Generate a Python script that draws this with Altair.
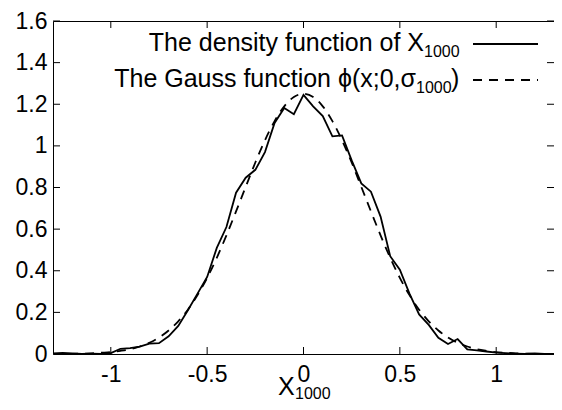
import altair as alt
import pandas as pd

# Empirical density of X_1000 (solid line)
dens_x = [-1.30, -1.25, -1.20, -1.15, -1.10, -1.05, -1.00, -0.95, -0.90, -0.85,
          -0.80, -0.75, -0.70, -0.65, -0.60, -0.55, -0.50, -0.45, -0.40, -0.35,
          -0.30, -0.25, -0.20, -0.15, -0.10, -0.05, 0.00, 0.05, 0.10, 0.15,
          0.20, 0.25, 0.30, 0.35, 0.40, 0.45, 0.50, 0.55, 0.60, 0.65,
          0.70, 0.75, 0.80, 0.85, 0.90, 0.95, 1.00, 1.05, 1.10, 1.15,
          1.20, 1.25, 1.30]
dens_y = [0.003, 0.005, 0.003, 0.001, 0.002, 0.001, 0.004, 0.025, 0.028, 0.035,
          0.050, 0.052, 0.085, 0.135, 0.210, 0.290, 0.370, 0.510, 0.610, 0.775,
          0.847, 0.885, 0.970, 1.110, 1.182, 1.152, 1.245, 1.190, 1.143, 1.046,
          1.050, 0.930, 0.820, 0.780, 0.660, 0.470, 0.405, 0.290, 0.190, 0.140,
          0.078, 0.048, 0.072, 0.022, 0.017, 0.012, 0.007, 0.004, 0.002, 0.001,
          0.003, 0.001, 0.000]

# Gauss function phi(x;0,sigma_1000) (dashed line)
gauss_x = dens_x
gauss_y = [0.000, 0.001, 0.001, 0.002, 0.003, 0.006, 0.009, 0.015, 0.023, 0.036,
           0.054, 0.079, 0.113, 0.157, 0.213, 0.283, 0.366, 0.462, 0.570, 0.685,
           0.803, 0.920, 1.027, 1.119, 1.190, 1.235, 1.250, 1.235, 1.190, 1.119,
           1.027, 0.920, 0.803, 0.685, 0.570, 0.462, 0.366, 0.283, 0.213, 0.157,
           0.113, 0.079, 0.054, 0.036, 0.023, 0.015, 0.009, 0.006, 0.003, 0.002,
           0.001, 0.001, 0.000]

x_ticks = [-1, -0.5, 0, 0.5, 1]
y_ticks = [0, 0.2, 0.4, 0.6, 0.8, 1, 1.2, 1.4, 1.6]

PL, PT = 45, 13
W, H = 501, 333
SVG_H = 394
FONT = "Liberation Sans"
TICK_FS = 23
LEG_FS = 25
SUB_FS = 16

dens = pd.DataFrame({"x": dens_x, "y": dens_y})
gauss = pd.DataFrame({"x": gauss_x, "y": gauss_y})
xt = pd.DataFrame({"v": x_ticks})
yt = pd.DataFrame({"v": y_ticks})

xscale = alt.Scale(domain=[-1.3, 1.3], nice=False, zero=False)
yscale = alt.Scale(domain=[0, 1.6], nice=False, zero=False)

xaxis = alt.Axis(values=x_ticks, labelExpr="datum.value + ''", ticks=False, domain=False,
                 grid=False, labelFont=FONT, labelFontSize=TICK_FS, labelColor="black",
                 labelPadding=9, title=None)
yaxis = alt.Axis(values=y_ticks, labelExpr="datum.value + ''", ticks=False, domain=False,
                 grid=False, labelFont=FONT, labelFontSize=TICK_FS, labelColor="black",
                 labelPadding=6, title=None)

solid = alt.Chart(dens).mark_line(color="black", strokeWidth=1.8, clip=True).encode(
    x=alt.X("x:Q", scale=xscale, axis=xaxis),
    y=alt.Y("y:Q", scale=yscale, axis=yaxis),
)
dashed = alt.Chart(gauss).mark_line(color="black", strokeWidth=1.8, strokeDash=[9, 7],
                                    interpolate="monotone", clip=True).encode(
    x=alt.X("x:Q", scale=xscale),
    y=alt.Y("y:Q", scale=yscale),
)

TL = 7
bt = alt.Chart(xt).mark_rule(color="black", strokeWidth=1).encode(
    x=alt.X("v:Q", scale=xscale), y=alt.value(H), y2=alt.value(H - TL))
tt = alt.Chart(xt).mark_rule(color="black", strokeWidth=1).encode(
    x=alt.X("v:Q", scale=xscale), y=alt.value(0), y2=alt.value(TL))
lt = alt.Chart(yt).mark_rule(color="black", strokeWidth=1).encode(
    y=alt.Y("v:Q", scale=yscale), x=alt.value(0), x2=alt.value(TL))
rt = alt.Chart(yt).mark_rule(color="black", strokeWidth=1).encode(
    y=alt.Y("v:Q", scale=yscale), x=alt.value(W), x2=alt.value(W - TL))

one = pd.DataFrame({"a": [0]})


def txt(s, x, y, size, align):
    return alt.Chart(one).mark_text(text=s, font=FONT, fontSize=size, color="black",
                                    align=align, baseline="alphabetic").encode(
        x=alt.value(x), y=alt.value(y))


# legend (positions in plot-area pixels)
SUBX1 = 371
SUBX2 = 363
leg = [
    txt("The density function of X", SUBX1, 30, LEG_FS, "right"),
    txt("1000", SUBX1, 36, SUB_FS, "left"),
    txt("The Gauss function \u03d5(x;0,\u03c3", SUBX2, 66, LEG_FS, "right"),
    txt("1000", SUBX2, 72, SUB_FS, "left"),
    txt(")", SUBX2 + 35, 66, LEG_FS, "left"),
    alt.Chart(one).mark_rule(color="black", strokeWidth=1.8).encode(
        x=alt.value(420), x2=alt.value(485), y=alt.value(23)),
    alt.Chart(one).mark_rule(color="black", strokeWidth=1.8, strokeDash=[9, 7]).encode(
        x=alt.value(420), x2=alt.value(485), y=alt.value(59)),
    # x-axis title X_1000
    txt("X", 225, 374, LEG_FS, "left"),
    txt("1000", 242, 378, SUB_FS, "left"),
]

chart = alt.layer(solid, dashed, bt, tt, lt, rt, *leg).properties(
    width=W, height=H,
    autosize=alt.AutoSizeParams(type="none"),
    padding={"left": PL, "top": PT, "right": 0, "bottom": SVG_H - PT - H},
    background="white",
).configure_view(stroke="black", strokeWidth=1)

chart.save("out.html", embed_options={"renderer": "svg", "actions": False})
